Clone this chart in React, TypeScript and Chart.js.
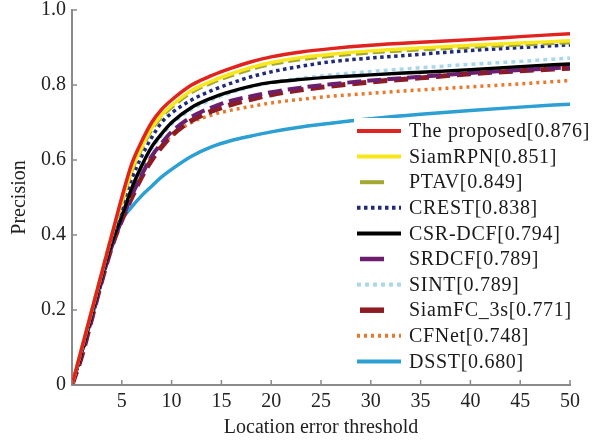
import React, { useEffect, useRef } from 'react';
import { Chart, registerables } from 'chart.js';

Chart.register(...registerables);

// Location error thresholds (x values)
const thresholds = [0, 1, 2, 3, 4, 5, 6, 7, 8, 9, 10, 12, 14, 16, 18, 20, 23, 26, 30, 35, 40, 45, 50];

// Precision values per tracker
const proposed = [0, 0.1, 0.2, 0.3, 0.4, 0.5, 0.59, 0.65, 0.7, 0.735, 0.76, 0.8, 0.825, 0.845, 0.862, 0.875, 0.888, 0.897, 0.906, 0.914, 0.921, 0.929, 0.937];
const siamRPN = [0, 0.1, 0.2, 0.3, 0.4, 0.49, 0.575, 0.635, 0.685, 0.72, 0.745, 0.785, 0.81, 0.83, 0.847, 0.86, 0.873, 0.882, 0.891, 0.899, 0.906, 0.912, 0.918];
const ptav = [0, 0.1, 0.2, 0.3, 0.4, 0.485, 0.57, 0.63, 0.68, 0.715, 0.74, 0.78, 0.805, 0.825, 0.842, 0.855, 0.868, 0.877, 0.886, 0.894, 0.901, 0.907, 0.913];
const crest = [0, 0.09, 0.19, 0.29, 0.39, 0.47, 0.55, 0.61, 0.66, 0.7, 0.725, 0.76, 0.785, 0.805, 0.822, 0.835, 0.85, 0.862, 0.872, 0.882, 0.892, 0.9, 0.907];
const csrDcf = [0, 0.09, 0.19, 0.29, 0.38, 0.45, 0.525, 0.585, 0.635, 0.67, 0.7, 0.74, 0.765, 0.783, 0.797, 0.807, 0.815, 0.821, 0.827, 0.834, 0.841, 0.849, 0.856];
const srdcf = [0, 0.085, 0.18, 0.28, 0.37, 0.44, 0.505, 0.56, 0.61, 0.645, 0.675, 0.715, 0.74, 0.758, 0.77, 0.781, 0.793, 0.802, 0.812, 0.822, 0.832, 0.84, 0.847];
const sint = [0, 0.09, 0.19, 0.29, 0.38, 0.45, 0.52, 0.58, 0.63, 0.665, 0.695, 0.735, 0.76, 0.78, 0.795, 0.806, 0.818, 0.827, 0.836, 0.846, 0.855, 0.863, 0.872];
const siamFC = [0, 0.08, 0.18, 0.28, 0.37, 0.44, 0.5, 0.555, 0.6, 0.635, 0.665, 0.705, 0.73, 0.748, 0.762, 0.774, 0.787, 0.797, 0.808, 0.819, 0.83, 0.838, 0.845];
const cfnet = [0, 0.09, 0.19, 0.29, 0.38, 0.45, 0.51, 0.565, 0.61, 0.64, 0.665, 0.7, 0.72, 0.733, 0.743, 0.752, 0.762, 0.77, 0.778, 0.787, 0.795, 0.803, 0.812];
const dsst = [0, 0.09, 0.18, 0.28, 0.37, 0.44, 0.475, 0.505, 0.53, 0.555, 0.575, 0.61, 0.635, 0.652, 0.664, 0.675, 0.688, 0.698, 0.71, 0.722, 0.732, 0.741, 0.749];

const seriesNames = [
  'The proposed[0.876]',
  'SiamRPN[0.851]',
  'PTAV[0.849]',
  'CREST[0.838]',
  'CSR-DCF[0.794]',
  'SRDCF[0.789]',
  'SINT[0.789]',
  'SiamFC_3s[0.771]',
  'CFNet[0.748]',
  'DSST[0.680]',
];
const seriesValues = [proposed, siamRPN, ptav, crest, csrDcf, srdcf, sint, siamFC, cfnet, dsst];

const xTicks = [0, 5, 10, 15, 20, 25, 30, 35, 40, 45, 50];
const yTicks = [0, 0.2, 0.4, 0.6, 0.8, 1.0];

const styles = [
  { color: '#e0231f', width: 3.5, dash: [] as number[], legendLen: 44 },
  { color: '#f7e71c', width: 3.5, dash: [] as number[], legendLen: 44 },
  { color: '#a3a832', width: 3.5, dash: [12, 5], legendLen: 24 },
  { color: '#1f2a78', width: 3.5, dash: [3.5, 3.5], legendLen: 44 },
  { color: '#000000', width: 3.5, dash: [] as number[], legendLen: 44 },
  { color: '#6b1f6e', width: 4, dash: [14, 6], legendLen: 24 },
  { color: '#a8d8ec', width: 3.5, dash: [4, 4], legendLen: 44 },
  { color: '#8e1b22', width: 5, dash: [14, 7], legendLen: 24 },
  { color: '#e87a2e', width: 3.5, dash: [3, 4], legendLen: 44 },
  { color: '#2c9fd3', width: 3.5, dash: [] as number[], legendLen: 44 },
];

const FONT = '"Liberation Serif", "Times New Roman", serif';

const innerTicks = {
  id: 'innerTicks',
  afterDatasetsDraw(chart: any) {
    const { ctx, chartArea, scales } = chart;
    ctx.save();
    ctx.strokeStyle = '#8a8a8a';
    ctx.lineWidth = 1.5;
    xTicks.forEach((v) => {
      const px = scales.x.getPixelForValue(v);
      ctx.beginPath();
      ctx.moveTo(px, chartArea.bottom);
      ctx.lineTo(px, chartArea.bottom - 5);
      ctx.stroke();
    });
    yTicks.forEach((v) => {
      const py = scales.y.getPixelForValue(v);
      ctx.beginPath();
      ctx.moveTo(chartArea.left, py);
      ctx.lineTo(chartArea.left + 5, py);
      ctx.stroke();
    });
    ctx.restore();
  },
};

const customLegend = {
  id: 'customLegend',
  afterDraw(chart: any) {
    const { ctx, chartArea } = chart;
    const x0 = chartArea.left + 285;
    const y0 = chartArea.top + 121;
    const step = 25.6;
    ctx.save();
    ctx.fillStyle = '#ffffff';
    ctx.fillRect(x0 - 3, y0 - 13, 240, step * 9 + 26);
    seriesNames.forEach((name, i) => {
      const s = styles[i];
      const y = y0 + i * step;
      ctx.strokeStyle = s.color;
      ctx.lineWidth = s.width + 0.5;
      ctx.setLineDash(s.legendLen < 44 ? [] : s.dash);
      ctx.beginPath();
      const start = s.legendLen < 44 ? x0 + 3 : x0;
      ctx.moveTo(start, y);
      ctx.lineTo(start + s.legendLen, y);
      ctx.stroke();
      ctx.setLineDash([]);
      ctx.fillStyle = '#1a1a1a';
      ctx.font = `20px ${FONT}`;
      ctx.textBaseline = 'middle';
      ctx.textAlign = 'left';
      try {
        (ctx as any).letterSpacing = '0.7px';
      } catch (e) {
        /* ignore */
      }
      ctx.fillText(name, x0 + 52, y + 1);
      try {
        (ctx as any).letterSpacing = '0px';
      } catch (e) {
        /* ignore */
      }
    });
    ctx.restore();
  },
};

export default function App() {
  const canvasRef = useRef<HTMLCanvasElement | null>(null);

  useEffect(() => {
    const canvas = canvasRef.current;
    if (!canvas) return;
    const datasets = seriesNames.map((name, i) => ({
      label: name,
      data: thresholds.map((x, j) => ({ x, y: seriesValues[i][j] })),
      borderColor: styles[i].color,
      backgroundColor: styles[i].color,
      borderWidth: styles[i].width,
      borderDash: styles[i].dash,
      borderCapStyle: 'butt' as const,
      pointRadius: 0,
      fill: false,
      cubicInterpolationMode: 'monotone' as const,
    }));

    const chart = new Chart(canvas, {
      type: 'line',
      data: { datasets },
      options: {
        animation: false,
        responsive: false,
        maintainAspectRatio: false,
        layout: { padding: { left: 0, top: 10, right: 34, bottom: 0 } },
        plugins: {
          legend: { display: false },
          tooltip: { enabled: false },
        },
        scales: {
          x: {
            type: 'linear',
            min: 0,
            max: 50,
            afterFit: (s: any) => {
              s.height = 55;
              s.paddingLeft = 0;
              s.paddingRight = 0;
            },
            afterBuildTicks: (s: any) => {
              s.ticks = xTicks.map((v) => ({ value: v }));
            },
            grid: { display: false, drawTicks: false },
            border: { display: true, color: '#8a8a8a', width: 2 },
            ticks: {
              autoSkip: false,
              maxRotation: 0,
              padding: 5,
              color: '#222',
              font: { family: FONT, size: 20 },
              callback: (v: any) => (Number(v) === 0 ? '' : String(v)),
            },
            title: {
              display: true,
              text: 'Location error threshold',
              color: '#222',
              font: { family: FONT, size: 20 },
              padding: { top: 0, bottom: 0 },
            },
          },
          y: {
            type: 'linear',
            min: 0,
            max: 1,
            afterFit: (s: any) => {
              s.width = 72;
              s.paddingTop = 0;
              s.paddingBottom = 0;
            },
            afterBuildTicks: (s: any) => {
              s.ticks = yTicks.map((v) => ({ value: v }));
            },
            grid: { display: false, drawTicks: false },
            border: { display: true, color: '#8a8a8a', width: 2 },
            ticks: {
              padding: 6,
              color: '#222',
              font: { family: FONT, size: 20 },
              callback: (v: any) => (Number(v) === 0 ? '0' : Number(v).toFixed(1)),
            },
            title: {
              display: true,
              text: 'Precision',
              color: '#222',
              font: { family: FONT, size: 20 },
              padding: { top: 8, bottom: 0 },
            },
          },
        },
      },
      plugins: [innerTicks, customLegend],
    });

    return () => {
      chart.destroy();
    };
  }, []);

  return (
    <div style={{ position: 'fixed', left: 0, top: 0, width: 604, height: 440, background: '#fff' }}>
      <canvas ref={canvasRef} width={604} height={440} style={{ display: 'block' }} />
    </div>
  );
}
